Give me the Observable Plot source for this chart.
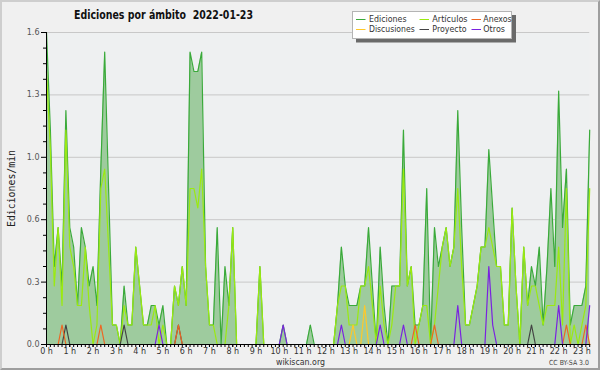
<!DOCTYPE html>
<html><head><meta charset="utf-8">
<script src="https://cdn.jsdelivr.net/npm/d3@7"></script>
<script src="https://cdn.jsdelivr.net/npm/@observablehq/plot@0.6"></script>
<style>
html,body{margin:0;padding:0;background:#f0f0f0;}
#wrap{position:relative;width:600px;height:370px;overflow:hidden;background:#f0f0f0;}
#wrap svg{position:absolute;left:0;top:0;}
#border{position:absolute;left:0;top:0;width:596px;height:366px;border:2px solid;border-color:#cecece #9e9e9e #9e9e9e #cecece;pointer-events:none;}
</style>
</head><body>
<div id="wrap"><div id="border"></div></div>
<script>
// ---- data: edits per minute, one value per 10 minutes, 00:00 .. 23:20 ----
const ediciones = [
  1.6,1.1,0.4,0.6,0.3,1.2,
  0.6,0.5,0.2,0.6,0.5,0.3,
  0.4,0.2,0.9,1.5,0.8,0.1,
  0.1,0,0.3,0.1,0.1,0.5,
  0.3,0.1,0.1,0.2,0.2,0.1,
  0.2,0,0,0.3,0.2,0.4,
  0.2,1.5,1.4,1.4,1.5,0.4,
  0.1,0.1,0.6,0,0.4,0.2,
  0.6,0,0,0,0,0,
  0,0.4,0,0,0,0,
  0,0.1,0,0,0,0,
  0,0,0.1,0,0,0,
  0,0,0,0.2,0.5,0.3,
  0.2,0.2,0.2,0.3,0.3,0.6,
  0.3,0,0.5,0.2,0,0.3,
  0.3,0.3,1.1,0.3,0.4,0.1,
  0.1,0.2,0.8,0,0.6,0.4,
  0.5,0.6,0.4,0.5,1.2,0.6,
  0.1,0.1,0.2,0.3,0.5,0.5,
  1.0,0.7,0.4,0.4,0.1,0.1,
  0.7,0.3,0,0.5,0.2,0.4,
  0.3,0.5,0.1,0.4,0.8,0.4,
  1.3,0.6,0.9,0.1,0.2,0.2,
  0.2,0.3,1.1
];
const articulos = [
  1.4,1.0,0.3,0.6,0.2,1.1,
  0.5,0.4,0.2,0.2,0.5,0.2,
  0,0.1,0.8,0.9,0.5,0.1,
  0.1,0,0.2,0.1,0.1,0.5,
  0.3,0.1,0.1,0.1,0.2,0,
  0.1,0,0,0.3,0.2,0.4,
  0.2,0.8,0.8,0.7,0.9,0.4,
  0.1,0.1,0,0,0,0.2,
  0.6,0,0,0,0,0,
  0,0.4,0,0,0,0,
  0,0,0,0,0,0,
  0,0,0,0,0,0,
  0,0,0,0.2,0.3,0.3,
  0.1,0.1,0.1,0.3,0.3,0.4,
  0.2,0,0.3,0.1,0,0.1,
  0.3,0.3,0.9,0.3,0.4,0,
  0.1,0.2,0.2,0,0.1,0.3,
  0.5,0.6,0.4,0.5,0.8,0.4,
  0.1,0.1,0.2,0.3,0.5,0.5,
  0.6,0.5,0.4,0.4,0.1,0.1,
  0.7,0.3,0,0.5,0.2,0.3,
  0.3,0.2,0.1,0.2,0.2,0.2,
  0.5,0.1,0.8,0,0.1,0,
  0.1,0.2,0.8
];
const anexos = [
  0,0,0,0,0.1,0,
  0,0,0,0,0,0,
  0,0,0.1,0,0,0,
  0,0,0,0,0,0,
  0,0,0,0,0,0,
  0,0,0,0,0.1,0,
  0,0,0,0,0,0,
  0,0,0,0,0,0,
  0,0,0,0,0,0,
  0,0,0,0,0,0,
  0,0,0,0,0,0,
  0,0,0,0,0,0,
  0,0,0,0,0,0,
  0,0,0,0,0,0,
  0,0,0,0,0,0,
  0,0,0,0,0,0.1,
  0,0,0,0,0.1,0,
  0,0,0,0,0,0,
  0,0,0,0,0,0,
  0,0,0,0,0,0,
  0,0,0,0,0,0,
  0,0,0,0,0,0,
  0,0,0.1,0,0,0,
  0,0.1,0
];
const discusiones = [
  0,0,0,0,0,0,
  0,0,0,0,0,0,
  0,0,0,0,0,0,
  0,0,0,0,0,0,
  0,0,0,0,0,0,
  0,0,0,0,0,0,
  0,0,0,0,0,0,
  0,0,0,0,0,0,
  0,0,0,0,0,0,
  0,0,0,0,0,0,
  0,0,0,0,0,0,
  0,0,0,0,0,0,
  0,0,0,0,0,0,
  0,0.1,0,0,0.2,0,
  0,0,0,0,0,0,
  0,0,0,0,0,0,
  0,0,0,0,0,0,
  0,0,0,0,0,0,
  0,0,0,0,0,0,
  0,0,0,0,0,0,
  0,0,0,0,0,0,
  0,0,0,0,0,0,
  0,0,0,0,0,0,
  0,0,0
];
const proyecto = [
  0,0,0,0,0,0.1,
  0,0,0,0,0,0,
  0,0,0,0,0,0,
  0,0,0.1,0,0,0,
  0,0,0,0,0,0,
  0,0,0,0,0.1,0,
  0,0,0,0,0,0,
  0,0,0,0,0,0,
  0,0,0,0,0,0,
  0,0,0,0,0,0,
  0,0,0,0,0,0,
  0,0,0,0,0,0,
  0,0,0,0,0,0,
  0,0,0,0,0,0,
  0,0,0,0,0,0,
  0,0,0,0,0,0,
  0,0,0,0,0,0,
  0,0,0,0,0,0,
  0,0,0,0,0,0,
  0,0,0,0,0,0,
  0,0,0,0,0,0.1,
  0,0,0,0,0,0,
  0,0,0,0,0,0,
  0,0,0
];
const otros = [
  0,0,0,0,0,0,
  0,0,0,0,0,0,
  0,0,0,0,0,0,
  0,0,0,0,0,0,
  0,0,0,0,0,0.1,
  0,0,0,0,0,0,
  0,0,0,0,0,0,
  0,0,0,0,0,0,
  0,0,0,0,0,0,
  0,0,0,0,0,0,
  0,0.1,0,0,0,0,
  0,0,0,0,0,0,
  0,0,0,0,0.1,0,
  0,0,0,0,0,0,
  0,0,0.1,0,0,0,
  0,0,0.1,0,0,0,
  0,0,0,0,0,0,
  0,0,0,0,0.2,0,
  0,0,0,0,0,0,
  0.4,0.1,0,0,0,0,
  0,0,0,0,0,0,
  0,0,0,0,0,0,
  0.2,0,0,0,0,0,
  0,0,0.2
];
const seriesNames = ["Ediciones","Artículos","Anexos","Discusiones","Proyecto","Otros"];
const seriesColors = ["#3aaa3a","#9bea10","#ee6622","#ffc828","#444444","#7a22e0"];
const yTicks = [0, 0.32, 0.64, 0.96, 1.28, 1.6];
const yMinor = [0.08,0.16,0.24,0.40,0.48,0.56,0.72,0.80,0.88,1.04,1.12,1.20,1.36,1.44,1.52];
const hourTicks = [0,60,120,180,240,300,360,420,480,540,600,660,720,780,840,900,960,1020,1080,1140,1200,1260,1320,1380];
const titleText = "Ediciones por ámbito  2022-01-23";
const yLabel = "Ediciones/min";

// time stamps (minutes after midnight), one per value
const minutes = ediciones.map((_, i) => i * 10);
const data = minutes.map((t, i) => ({
  t, E: ediciones[i], A: articulos[i], An: anexos[i], D: discusiones[i], P: proyecto[i], O: otros[i]
}));

const line = (key, color) => Plot.lineY(data, {x: "t", y: key, stroke: color, strokeWidth: 1.2});

const chart = Plot.plot({
  width: 600, height: 370,
  marginLeft: 46, marginRight: 10.8, marginTop: 32, marginBottom: 26,
  x: {domain: [0, 1400], axis: null},
  y: {domain: [0, 1.6], axis: null},
  style: {background: "transparent", fontFamily: "DejaVu Sans", fontSize: "8px", color: "#333", overflow: "visible"},
  marks: [
    Plot.frame({fill: "#eef0f1", stroke: "none"}),
    Plot.ruleY(yTicks.slice(1), {stroke: "#c8c8c8"}),
    Plot.areaY(data, {x: "t", y: "E", fill: "#9ecb9e"}),
    line("E", seriesColors[0]),
    line("A", seriesColors[1]),
    line("D", seriesColors[3]),
    line("P", seriesColors[4]),
    line("An", seriesColors[2]),
    line("O", seriesColors[5]),
    Plot.ruleX([0], {stroke: "#000"}),
    Plot.ruleY([0], {stroke: "#000"}),
    Plot.axisY(yMinor, {tickSize: 3, tickFormat: () => "", stroke: "#000", label: null}),
    Plot.axisY(yTicks, {tickSize: 5, tickPadding: 2, tickFormat: d3.format(".1f"), stroke: "#000", fill: "#555", label: null}),
    Plot.axisX(minutes, {tickSize: 3, tickFormat: () => "", stroke: "#000", label: null}),
    Plot.axisX(hourTicks, {tickSize: 3, tickPadding: 1, tickFormat: t => `${t / 60} h`, stroke: "#000", fill: "#333", label: null})
  ]
});

const wrap = document.getElementById("wrap");
wrap.insertBefore(chart, wrap.firstChild);

// ---- overlay texts: title, legend, axis label, credits ----
const svg = d3.select(chart);
const g = svg.append("g").attr("font-family", "DejaVu Sans").attr("text-anchor", "start");

g.append("text")
  .attr("x", 74).attr("y", 18.5).attr("text-anchor", "start")
  .attr("font-size", 11.5).attr("font-weight", "bold").attr("fill", "#111")
  .attr("textLength", 179).attr("lengthAdjust", "spacingAndGlyphs")
  .style("white-space", "pre")
  .text(titleText);

// legend box with shadow
g.append("rect").attr("x", 356).attr("y", 15).attr("width", 160).attr("height", 27.5).attr("fill", "#6a6a6a");
g.append("rect").attr("x", 352.5).attr("y", 11.5).attr("width", 159).attr("height", 27).attr("fill", "#fff").attr("stroke", "#b4b4b4");

const legendCols = [{lx: 356, tx: 369}, {lx: 419.5, tx: 432.3}, {lx: 471.5, tx: 483.3}];
const legendRows = [{ly: 19.5, ty: 22.4}, {ly: 29.5, ty: 32.4}];
const legendWidths = [37.5, 35.3, 28.3, 45.7, 34.3, 21.7];
seriesNames.forEach((name, k) => {
  const c = legendCols[k % 3], r = legendRows[Math.floor(k / 3)];
  g.append("line").attr("x1", c.lx).attr("x2", c.lx + 9.5).attr("y1", r.ly).attr("y2", r.ly)
    .attr("stroke", seriesColors[k]).attr("stroke-width", 1);
  g.append("text").attr("x", c.tx).attr("y", r.ty).attr("text-anchor", "start")
    .attr("font-size", 9.5).attr("fill", "#333")
    .attr("textLength", legendWidths[k]).attr("lengthAdjust", "spacingAndGlyphs").text(name);
});

g.append("text")
  .attr("transform", "translate(15,188.5) rotate(-90)")
  .attr("text-anchor", "middle").attr("font-family", "DejaVu Sans Mono")
  .attr("font-size", 10).attr("fill", "#222")
  .attr("textLength", 77).attr("lengthAdjust", "spacingAndGlyphs")
  .text(yLabel);

g.append("text").attr("x", 276).attr("y", 364.5).attr("text-anchor", "start")
  .attr("font-size", 9).attr("fill", "#333")
  .attr("textLength", 49).attr("lengthAdjust", "spacingAndGlyphs").text("wikiscan.org");
g.append("text").attr("x", 549).attr("y", 365).attr("text-anchor", "start")
  .attr("font-size", 7).attr("fill", "#444")
  .attr("textLength", 40).attr("lengthAdjust", "spacingAndGlyphs").text("CC BY-SA 3.0");
</script>
</body></html>
